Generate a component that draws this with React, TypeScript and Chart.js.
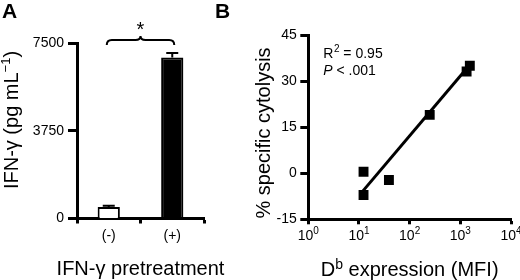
import React, { useEffect, useRef } from "react";
import { Chart, registerables } from "chart.js";

Chart.register(...registerables);

const FONT = "'Liberation Sans', Arial, Helvetica, sans-serif";

// Panel A data
const groupLabels = ["(-)", "(+)"];
const ifnValues = [490, 6880];
const ifnErrors = [55, 190];
const ifnFill = ["#ffffff", "#000000"];
const ifnTicks = [0, 3750, 7500];

// Panel B data
const mfiValues = [12.3, 12.3, 39, 249, 1330, 1540];
const cytolysisValues = [0.5, -7.1, -2.2, 19, 33.1, 35];
const fitX = [10.6, 1540];
const fitY = [-6.8, 35.3];
const logTickValues = [1, 10, 100, 1000, 10000];
const logTickExponents = ["0", "1", "2", "3", "4"];
const cytoTicks = [-15, 0, 15, 30, 45];

const panelAPlugin = {
  id: "panelA",
  afterDatasetsDraw(chart: any) {
    const { ctx, scales } = chart;
    const x = scales.x;
    const y = scales.y;
    ctx.save();
    // error bars
    ctx.strokeStyle = "#000";
    ctx.lineWidth = 2;
    ifnValues.forEach((v, i) => {
      const cx = x.getPixelForValue(i);
      const top = y.getPixelForValue(v + ifnErrors[i]);
      const base = y.getPixelForValue(v);
      ctx.beginPath();
      ctx.moveTo(cx, base);
      ctx.lineTo(cx, top);
      ctx.moveTo(cx - 6, top);
      ctx.lineTo(cx + 6, top);
      ctx.stroke();
    });
    // significance bracket
    const x1 = x.getPixelForValue(0) - 2;
    const x2 = x.getPixelForValue(1) + 2;
    const xm = (x1 + x2) / 2;
    const yb = y.getPixelForValue(7500) - 3;
    ctx.lineWidth = 2;
    ctx.beginPath();
    ctx.moveTo(x1, yb + 5);
    ctx.quadraticCurveTo(x1, yb, x1 + 5, yb);
    ctx.lineTo(xm - 5, yb);
    ctx.quadraticCurveTo(xm, yb, xm, yb - 4);
    ctx.quadraticCurveTo(xm, yb, xm + 5, yb);
    ctx.lineTo(x2 - 5, yb);
    ctx.quadraticCurveTo(x2, yb, x2, yb + 5);
    ctx.stroke();
    ctx.fillStyle = "#000";
    ctx.font = `20px ${FONT}`;
    ctx.textAlign = "center";
    ctx.textBaseline = "alphabetic";
    ctx.fillText("*", xm, yb - 4);
    ctx.restore();
  },
  afterDraw(chart: any) {
    const { ctx, chartArea } = chart;
    ctx.save();
    ctx.fillStyle = "#000";
    // panel letter
    ctx.font = `bold 21px ${FONT}`;
    ctx.textAlign = "left";
    ctx.textBaseline = "top";
    ctx.fillText("A", 2, 2);
    // x title
    ctx.font = `20px ${FONT}`;
    ctx.textAlign = "center";
    ctx.textBaseline = "alphabetic";
    ctx.fillText("IFN-γ pretreatment", (chartArea.left + chartArea.right) / 2, 275);
    // y title
    ctx.translate(12, 120);
    ctx.rotate(-Math.PI / 2);
    ctx.textBaseline = "middle";
    const main = "IFN-γ (pg mL";
    const sup = "−1";
    const close = ")";
    ctx.font = `20px ${FONT}`;
    const wMain = ctx.measureText(main).width;
    const wClose = ctx.measureText(close).width;
    ctx.font = `13px ${FONT}`;
    const wSup = ctx.measureText(sup).width;
    const total = wMain + wSup + wClose;
    let px = -total / 2;
    ctx.textAlign = "left";
    ctx.font = `20px ${FONT}`;
    ctx.fillText(main, px, 0);
    px += wMain;
    ctx.font = `13px ${FONT}`;
    ctx.fillText(sup, px, -6);
    px += wSup;
    ctx.font = `20px ${FONT}`;
    ctx.fillText(close, px, 0);
    ctx.restore();
  },
};

const panelBPlugin = {
  id: "panelB",
  afterDraw(chart: any) {
    const { ctx, chartArea, scales } = chart;
    ctx.save();
    ctx.fillStyle = "#000";
    ctx.font = `bold 21px ${FONT}`;
    ctx.textAlign = "left";
    ctx.textBaseline = "top";
    ctx.fillText("B", 5, 2);

    // log tick labels with superscripts
    const xs = scales.x;
    ctx.textBaseline = "alphabetic";
    logTickValues.forEach((v, i) => {
      const cx = xs.getPixelForValue(v);
      ctx.font = `14px ${FONT}`;
      const wb = ctx.measureText("10").width;
      ctx.font = `10px ${FONT}`;
      const we = ctx.measureText(logTickExponents[i]).width;
      const left = cx - (wb + we) / 2;
      ctx.font = `14px ${FONT}`;
      ctx.textAlign = "left";
      ctx.fillText("10", left, chartArea.bottom + 21);
      ctx.font = `10px ${FONT}`;
      ctx.fillText(logTickExponents[i], left + wb, chartArea.bottom + 15);
    });

    // annotation
    const ax = chartArea.left + 15;
    ctx.font = `14px ${FONT}`;
    ctx.fillText("R", ax, 58);
    const wR = ctx.measureText("R").width;
    ctx.font = `10px ${FONT}`;
    ctx.fillText("2", ax + wR + 0.5, 52);
    const w2 = ctx.measureText("2").width;
    ctx.font = `14px ${FONT}`;
    ctx.fillText(" = 0.95", ax + wR + w2 + 0.5, 58);
    ctx.font = `italic 14px ${FONT}`;
    ctx.fillText("P", ax, 75);
    const wP = ctx.measureText("P").width;
    ctx.font = `14px ${FONT}`;
    ctx.fillText(" < .001", ax + wP, 75);

    // x title with superscript b
    ctx.font = `20px ${FONT}`;
    const wD = ctx.measureText("D").width;
    const rest = " expression (MFI)";
    const wRest = ctx.measureText(rest).width;
    ctx.font = `14px ${FONT}`;
    const wb = ctx.measureText("b").width;
    const tot = wD + wb + wRest;
    let px = (chartArea.left + chartArea.right) / 2 - tot / 2;
    ctx.font = `20px ${FONT}`;
    ctx.fillText("D", px, 276);
    px += wD;
    ctx.font = `14px ${FONT}`;
    ctx.fillText("b", px, 269);
    px += wb;
    ctx.font = `20px ${FONT}`;
    ctx.fillText(rest, px, 276);

    // y title
    ctx.translate(54, 133);
    ctx.rotate(-Math.PI / 2);
    ctx.textAlign = "center";
    ctx.textBaseline = "middle";
    ctx.font = `20px ${FONT}`;
    ctx.fillText("% specific cytolysis", 0, 0);
    ctx.restore();
  },
};

function PanelA() {
  const ref = useRef<HTMLCanvasElement>(null);
  useEffect(() => {
    const chart = new Chart(ref.current!, {
      type: "bar",
      data: {
        labels: groupLabels,
        datasets: [
          {
            data: ifnValues,
            backgroundColor: ifnFill,
            borderColor: "#000",
            borderWidth: 2,
            barPercentage: 0.35,
            categoryPercentage: 1,
          },
        ],
      },
      options: {
        animation: false,
        responsive: false,
        maintainAspectRatio: false,
        events: [],
        layout: { padding: { top: 43, right: 56, left: 0, bottom: 0 } },
        plugins: { legend: { display: false }, tooltip: { enabled: false } },
        scales: {
          x: {
            type: "category",
            offset: true,
            grid: {
              offset: true,
              drawOnChartArea: false,
              drawTicks: true,
              tickLength: 5,
              tickWidth: 3,
              color: "#000",
            },
            border: { display: true, width: 3, color: "#000" },
            ticks: { color: "#000", font: { family: FONT, size: 14 }, padding: 4 },
            afterFit: (s: any) => {
              s.height = 280 - 218.5;
            },
          },
          y: {
            min: 0,
            max: 7500,
            afterBuildTicks: (s: any) => {
              s.ticks = ifnTicks.map((v) => ({ value: v }));
            },
            grid: {
              drawOnChartArea: false,
              drawTicks: true,
              tickLength: 9,
              tickWidth: 3,
              color: "#000",
            },
            border: { display: true, width: 3, color: "#000" },
            ticks: {
              color: "#000",
              font: { family: FONT, size: 14 },
              padding: 4,
              callback: (v: any) => String(v),
            },
            afterFit: (s: any) => {
              s.width = 77;
            },
          },
        },
      },
      plugins: [panelAPlugin],
    } as any);
    return () => chart.destroy();
  }, []);
  return (
    <canvas
      ref={ref}
      width={260}
      height={280}
      style={{ position: "absolute", left: 0, top: 0, width: 260, height: 280 }}
    />
  );
}

function PanelB() {
  const ref = useRef<HTMLCanvasElement>(null);
  useEffect(() => {
    const chart = new Chart(ref.current!, {
      type: "scatter",
      data: {
        datasets: [
          {
            type: "scatter",
            data: mfiValues.map((v, i) => ({ x: v, y: cytolysisValues[i] })),
            backgroundColor: "#000",
            borderColor: "#000",
            pointStyle: "rect",
            pointRadius: 7,
            borderWidth: 0,
            order: 0,
          },
          {
            type: "line",
            data: fitX.map((v, i) => ({ x: v, y: fitY[i] })),
            borderColor: "#000",
            borderWidth: 3,
            pointRadius: 0,
            fill: false,
            order: 1,
          },
        ],
      },
      options: {
        animation: false,
        responsive: false,
        maintainAspectRatio: false,
        events: [],
        layout: { padding: { top: 35, right: 9, left: 0, bottom: 0 } },
        plugins: { legend: { display: false }, tooltip: { enabled: false } },
        scales: {
          x: {
            type: "logarithmic",
            min: 1,
            max: 10000,
            afterBuildTicks: (s: any) => {
              s.ticks = logTickValues.map((v) => ({ value: v }));
            },
            grid: {
              drawOnChartArea: false,
              drawTicks: true,
              tickLength: 5,
              tickWidth: 3,
              color: "#000",
            },
            border: { display: true, width: 3, color: "#000" },
            ticks: { display: false },
            afterFit: (s: any) => {
              s.height = 280 - 219.3;
              s.paddingRight = 0;
              s.paddingLeft = 0;
            },
          },
          y: {
            min: -15,
            max: 45,
            afterBuildTicks: (s: any) => {
              s.ticks = cytoTicks.map((v) => ({ value: v }));
            },
            grid: {
              drawOnChartArea: false,
              drawTicks: true,
              tickLength: 8,
              tickWidth: 3,
              color: "#000",
            },
            border: { display: true, width: 3, color: "#000" },
            ticks: { color: "#000", font: { family: FONT, size: 14 }, padding: 3.5 },
            afterFit: (s: any) => {
              s.width = 98.3;
            },
          },
        },
      },
      plugins: [panelBPlugin],
    } as any);
    return () => chart.destroy();
  }, []);
  return (
    <canvas
      ref={ref}
      width={310}
      height={280}
      style={{ position: "absolute", left: 210, top: 0, width: 310, height: 280 }}
    />
  );
}

export default function App() {
  return (
    <div
      style={{
        position: "absolute",
        left: 0,
        top: 0,
        width: 520,
        height: 280,
        background: "#fff",
        overflow: "hidden",
      }}
    >
      <PanelA />
      <PanelB />
    </div>
  );
}
